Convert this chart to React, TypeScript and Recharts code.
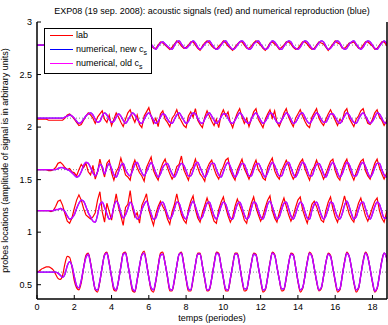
import React from "react";
import { LineChart, Line, XAxis, YAxis, ReferenceLine, Label } from "recharts";

// sampling step of every probe record (in periods)
const STEP = 0.125;
const X_MAX = 18.78;
const xTicks = [0, 2, 4, 6, 8, 10, 12, 14, 16, 18];
const yTicks = [0.5, 1, 1.5, 2, 2.5, 3];

// probe locations (vertical offsets of each record)
const bases = [2.78, 2.085, 1.595, 1.205, 0.62];

// deviations from the probe location, in 1/100 units, one row per period
const lab1 = [
  0, 0, 0, 0, 0, 0, 0, 0,
  0, 0, 0, 0, 1, 1, 1, 0,
  -1, -2, -1, 1, 2, 0, -2, -1,
  1, -2, -4, -1, 2, 3, 0, -3,
  -4, 0, 3, 2, 0, -3, -2, 1,
  3, 2, -1, -3, -5, -1, 2, 1,
  2, 0, -3, -3, 0, 3, 2, 0,
  -2, -4, -2, 1, 4, 2, -1, -3,
  -2, 0, 3, 3, 0, -3, -5, -1,
  2, 4, 2, -1, -3, -4, -1, 1,
  4, 2, -1, -3, -5, -2, 1, 3,
  3, 0, -3, -3, -1, 2, 4, 2,
  0, -3, -5, -2, 2, 3, 1, -1,
  -4, -2, 0, 3, 3, 1, -2, -4,
  -3, 0, 3, 3, 1, -2, -4, -3,
  0, 3, 2, 1, -2, -5, -2, 1,
  4, 2, 1, -3, -3, -1, 2, 2,
  3, 0, -3, -3, 0, 3, 3, 1,
  -1, -4, -3, 0, 3, 3, 0, -2,
];
const num1 = [
  0, 0, 0, 0, 0, 0, 0, 0,
  0, 0, 0, 0, 0, 0, 1, 1,
  1, 0, -1, -2, -1, 1, 2, 1,
  -1, -3, -2, 1, 3, 2, -1, -2,
  -3, -1, 2, 3, 1, -2, -3, 0,
  2, 3, 1, -2, -4, -2, 1, 2,
  3, 1, -2, -4, -1, 2, 3, 1,
  -1, -3, -4, 0, 3, 4, 1, -2,
  -3, -1, 2, 4, 2, -2, -4, -2,
  1, 3, 4, 1, -2, -4, -3, 0,
  3, 4, 1, -2, -4, -3, 0, 3,
  4, 2, -2, -4, -3, 1, 3, 4,
  1, -2, -4, -3, 1, 4, 3, 0,
  -3, -4, -1, 2, 4, 3, -1, -3,
  -4, -2, 2, 4, 3, 0, -3, -4,
  -1, 2, 4, 3, -1, -4, -3, 0,
  3, 4, 2, -2, -4, -3, 1, 3,
  4, 1, -2, -4, -2, 2, 4, 3,
  0, -3, -4, -1, 2, 4, 2, -1,
];

const lab2 = [
  -1, -1, -1, -1, -1, -2, -2, -2,
  -2, -2, -2, -2, 0, 3, 4, 2,
  -1, -4, -7, -6, -2, 2, 5, 3,
  0, -5, 1, 4, 7, -1, -4, 3,
  -7, -1, 5, 1, -4, -8, -1, 5,
  8, 1, -4, 3, -6, -9, 2, 6,
  10, 2, -5, 0, -8, 4, 7, -1,
  -4, -8, 0, 3, 8, 1, -3, -7,
  -9, 2, 6, 1, 9, -2, -6, -9,
  1, 7, 2, -3, -7, -1, -9, 3,
  8, 2, 6, -4, -9, -1, 5, 9,
  1, -5, 0, -8, -1, 6, 9, -1,
  -5, -9, -1, 4, 8, 0, 7, -4,
  -8, -2, 5, 9, 1, -4, -8, 0,
  4, 8, 2, -3, -7, -9, 1, 5,
  9, 0, -4, -7, -1, 4, 8, 3,
  -2, -7, -1, -3, 6, 9, 0, -4,
  -8, -1, 2, 7, 9, 1, -5, -6,
  -1, 5, 8, 1, -2, -7, -3, 2,
];
const num2 = [
  0, 0, 0, 0, 0, 0, 0, 0,
  0, 0, 0, 0, 1, 2, 3, 2,
  0, -3, -5, -4, -1, 2, 4, 5,
  3, -1, -4, -3, 2, 5, 3, -1,
  -4, -3, 1, 4, 2, -2, -5, -2,
  2, 5, 3, -1, -4, -5, -1, 3,
  5, 2, -2, -5, -3, 1, 4, 3,
  -1, -4, -5, -1, 3, 5, 2, -2,
  -5, -3, 2, 5, 4, 0, -4, -5,
  -1, 3, 5, 2, -2, -5, -3, 1,
  4, 4, 0, -4, -5, -2, 2, 5,
  3, -1, -4, -5, -1, 3, 5, 2,
  -2, -5, -3, 1, 5, 4, 0, -4,
  -5, -2, 2, 5, 3, -1, -5, -4,
  0, 4, 5, 1, -3, -5, -2, 2,
  5, 3, -1, -4, -4, 0, 4, 4,
  1, -3, -5, -2, 2, 5, 3, -1,
  -4, -5, -1, 3, 5, 2, -2, -5,
  -3, 1, 5, 4, 0, -4, -5, -1,
];

const lab3 = [
  0, 0, 0, 0, 0, -1, -1, 0,
  2, 6, 7, 5, 2, 0, 1, -2,
  -3, -6, 0, 5, 2, 6, -2, -5,
  4, -9, -2, 10, 1, -7, 6, 9,
  -3, -10, -2, 2, 11, 3, -5, -7,
  -10, 3, 9, 2, -3, -6, -11, 2,
  7, 12, -1, -6, -10, 0, 6, 10,
  2, -4, -9, -5, 3, 5, 13, 0,
  -5, -10, -1, 3, 10, 2, -4, -7,
  -11, 1, 6, 9, 1, -5, -9, -2,
  3, 9, 11, -1, -6, -10, 0, 5,
  10, 1, -4, -9, -3, 4, 9, 0,
  -3, -8, -10, 2, 7, 11, -1, -6,
  -9, -1, 4, 9, 4, -4, -9, -5,
  2, 7, 10, 1, -5, -10, -1, 3,
  9, 2, -3, -9, -4, 2, 8, 10,
  -1, -7, -10, 0, 6, 10, 1, -5,
  -10, -3, 3, 8, 10, -1, -6, -9,
  -1, 6, 10, 2, -4, -9, -4, 1,
];
const num3 = [
  0, 0, 0, 0, 0, 0, 0, 0,
  0, 1, 2, 2, 1, 0, -1, -3,
  -5, -7, -6, -2, 4, 7, 6, 2,
  -3, -6, -2, 5, 3, -4, 2, 6,
  1, -5, -7, -2, 4, 6, 0, -4,
  -6, -1, 5, 7, 2, -3, -6, -2,
  3, 7, 3, -3, -7, -4, 2, 5,
  6, 1, -4, -7, -3, 3, 6, 4,
  -1, -6, -6, -1, 5, 7, 2, -3,
  -7, -4, 2, 6, 6, 0, -5, -7,
  -2, 4, 7, 3, -3, -7, -4, 2,
  6, 5, -1, -6, -6, 0, 5, 6,
  2, -4, -7, -3, 3, 7, 4, -2,
  -6, -6, 0, 5, 7, 2, -4, -7,
  -3, 3, 7, 5, -1, -6, -6, 0,
  5, 6, 2, -4, -7, -2, 4, 7,
  3, -3, -7, -4, 2, 7, 5, -1,
  -6, -6, -1, 5, 7, 3, -3, -7,
  -4, 2, 6, 6, 0, -5, -7, -2,
];

const lab4 = [
  0, 0, 0, 0, 0, 0, -1, 0,
  4, 9, 10, 5, -3, -10, -12, -7,
  2, 10, 15, 10, 2, -4, -6, -8,
  -6, -2, 10, 18, -1, -11, 7, -1,
  -9, 4, 16, 3, -5, -14, 3, 6,
  19, 2, -6, -2, -12, 5, 10, 16,
  1, -7, -14, -3, 4, 9, 4, 0,
  -8, -13, -1, 6, 16, 5, -4, -9,
  -12, 1, 9, 14, 1, -7, -11, -2,
  5, 12, 5, -3, -10, -12, 1, 8,
  13, 3, -5, -11, -6, 4, 11, 5,
  -1, -9, -12, -1, 7, 13, 3, -4,
  -10, -5, 3, 10, 14, 0, -7, -11,
  -2, 6, 12, 4, -4, -10, -5, 3,
  10, 13, 1, -6, -12, -3, 6, 9,
  4, -3, -9, -11, 0, 8, 13, 2,
  -6, -11, -3, 5, 14, 5, -3, -8,
  -11, -1, 7, 12, 3, -5, -10, -4,
  3, 9, 12, 0, -7, -11, -2, 4,
];
const num4 = [
  0, 0, 0, 0, 0, 0, 0, 0,
  1, 1, 2, 1, -1, -5, -8, -7,
  -4, 2, 7, 10, 9, 4, -2, -6,
  -10, -11, -4, 6, 8, 3, -3, -8,
  -6, 4, 9, 6, -2, -7, -4, 2,
  8, 5, -3, -8, -6, 1, 6, 9,
  4, -3, -8, -7, 0, 6, 8, 3,
  -4, -8, -5, 2, 8, 7, 0, -6,
  -8, -2, 5, 9, 4, -3, -8, -6,
  1, 7, 8, 2, -5, -8, -3, 4,
  8, 6, -1, -7, -8, -1, 6, 8,
  3, -4, -8, -6, 2, 8, 7, 0,
  -6, -8, -2, 6, 9, 4, -3, -8,
  -6, 1, 7, 8, 2, -5, -8, -3,
  4, 8, 6, -1, -7, -8, 0, 6,
  8, 3, -4, -8, -5, 2, 8, 7,
  0, -6, -8, -3, 5, 9, 4, -3,
  -8, -6, 1, 7, 8, 2, -5, -8,
  -3, 4, 8, 6, -1, -7, -7, 0,
];

const lab5 = [
  0, 1, 3, 4, 5, 5, 4, 2,
  -2, -6, -7, -3, 8, 15, 14, 5,
  -8, -15, -17, -10, 4, 16, 18, 9,
  -5, -17, -19, -9, 5, 17, 19, 9,
  -5, -17, -18, -8, 6, 18, 19, 8,
  -6, -18, -19, -8, 5, 17, 20, 9,
  -5, -17, -19, -9, 6, 18, 19, 8,
  -5, -18, -18, -8, 6, 17, 19, 8,
  -7, -18, -18, -7, 7, 18, 18, 6,
  -7, -18, -17, -6, 8, 19, 18, 6,
  -6, -18, -18, -7, 7, 18, 18, 7,
  -8, -18, -17, -5, 8, 18, 17, 5,
  -8, -19, -17, -5, 9, 19, 17, 5,
  -7, -18, -17, -6, 8, 18, 17, 5,
  -9, -19, -16, -4, 10, 19, 16, 4,
  -9, -18, -16, -4, 9, 18, 16, 4,
  -9, -19, -17, -4, 10, 19, 15, 4,
  -10, -19, -16, -3, 11, 19, 15, 3,
  -10, -19, -16, -3, 11, 18, 14, 3,
];
const num5 = [
  0, 0, 0, 0, 0, 0, 0, 0,
  0, -1, -3, -5, -2, 6, 10, 6,
  -4, -13, -15, -8, 4, 14, 17, 8,
  -5, -16, -17, -8, 5, 16, 18, 8,
  -4, -15, -17, -8, 5, 17, 18, 7,
  -5, -16, -18, -7, 6, 16, 18, 8,
  -5, -15, -17, -8, 5, 16, 17, 8,
  -4, -16, -17, -7, 6, 17, 18, 7,
  -6, -16, -17, -6, 7, 17, 17, 6,
  -6, -17, -16, -6, 7, 18, 17, 6,
  -6, -16, -17, -6, 6, 17, 17, 6,
  -7, -16, -16, -5, 8, 17, 16, 5,
  -7, -17, -16, -5, 8, 18, 16, 5,
  -7, -16, -16, -5, 8, 17, 16, 5,
  -8, -17, -15, -4, 9, 18, 15, 4,
  -8, -17, -15, -4, 9, 17, 15, 4,
  -8, -17, -16, -4, 9, 18, 15, 4,
  -9, -17, -15, -3, 10, 18, 14, 3,
  -9, -18, -15, -3, 10, 18, 14, 3,
];

const labs = [lab1, lab2, lab3, lab4, lab5];
const nums = [num1, num2, num3, num4, num5];

const toRows = (base: number, devs: number[]) =>
  devs.map((d, i) => ({ t: i * STEP, v: base + d / 100 }));

const font = "'Liberation Sans', Arial, Helvetica, sans-serif";
const tickStyle = { fontSize: 9, fill: "#000", fontFamily: font };

function LegendBox() {
  const row = (color: string, text: React.ReactNode, top: number) => (
    <div style={{ position: "absolute", left: 0, top, height: 12, width: "100%" }}>
      <div style={{ position: "absolute", left: 5, top: 6, width: 23, height: 1, background: color }} />
      <div style={{ position: "absolute", left: 31, top: 0, fontSize: 9, lineHeight: "12px", whiteSpace: "nowrap" }}>{text}</div>
    </div>
  );
  return (
    <div
      style={{
        position: "absolute",
        left: 44,
        top: 28,
        width: 106,
        height: 44,
        border: "1px solid #000",
        background: "#fff",
        fontFamily: font,
        color: "#000",
      }}
    >
      {row("#ff0000", "lab", 0)}
      {row("#0000ff", <span>numerical, new c<sub style={{ fontSize: 7 }}>s</sub></span>, 14)}
      {row("#ff00ff", <span>numerical, old c<sub style={{ fontSize: 7 }}>s</sub></span>, 28)}
    </div>
  );
}

export default function App() {
  return (
    <div style={{ position: "absolute", left: 0, top: 0, width: 388, height: 325, background: "#fff" }}>
      <div
        style={{
          position: "absolute",
          left: 37,
          width: 350,
          top: 6,
          textAlign: "center",
          fontSize: 9,
          fontFamily: font,
          whiteSpace: "nowrap",
        }}
      >
        EXP08 (19 sep. 2008): acoustic signals (red) and numerical reproduction (blue)
      </div>
      <LineChart width={388} height={325} margin={{ top: 22, right: 0, bottom: 0, left: 0 }}>
        <XAxis
          xAxisId="b"
          type="number"
          dataKey="t"
          domain={[0, X_MAX]}
          ticks={xTicks}
          allowDataOverflow
          height={26}
          tickSize={-4}
          tickMargin={9}
          tick={tickStyle}
          stroke="#000"
          axisLine={{ stroke: "#000", strokeWidth: 1.5 }}
          interval={0}
        />
        <XAxis
          xAxisId="t"
          orientation="top"
          type="number"
          domain={[0, X_MAX]}
          ticks={xTicks}
          allowDataOverflow
          height={0}
          tickSize={-4}
          tick={false}
          stroke="#000"
          axisLine={{ stroke: "#000", strokeWidth: 1.5 }}
        />
        <YAxis
          yAxisId="l"
          type="number"
          domain={[0.364, 3]}
          ticks={yTicks}
          allowDataOverflow
          width={37}
          tickSize={-4}
          tickMargin={9}
          tick={tickStyle}
          stroke="#000"
          axisLine={{ stroke: "#000", strokeWidth: 1.5 }}
          interval={0}
        >
          <Label
            value="probes locations (amplitude of signal is in arbitrary units)"
            angle={-90}
            position="insideLeft"
            offset={5}
            style={{ fontSize: 9, fontFamily: font, fill: "#000", textAnchor: "middle" }}
          />
        </YAxis>
        <YAxis
          yAxisId="r"
          orientation="right"
          type="number"
          domain={[0.364, 3]}
          ticks={yTicks}
          allowDataOverflow
          width={1}
          tickSize={-4}
          tick={false}
          stroke="#000"
          axisLine={{ stroke: "#000", strokeWidth: 1.5 }}
        />
        {bases.map((b) => (
          <ReferenceLine key={"ref" + b} xAxisId="b" yAxisId="l" y={b} stroke="#888" strokeDasharray="1 2" strokeWidth={1} />
        ))}
        {bases.map((b, k) => (
          <Line
            key={"lab" + k}
            xAxisId="b"
            yAxisId="l"
            data={toRows(b, labs[k])}
            dataKey="v"
            type={k === 4 ? "monotone" : "linear"}
            stroke="#ff0000"
            strokeWidth={1.2}
            dot={false}
            isAnimationActive={false}
          />
        ))}
        {bases.map((b, k) => (
          <Line
            key={"new" + k}
            xAxisId="b"
            yAxisId="l"
            data={toRows(b, nums[k])}
            dataKey="v"
            type="monotone"
            stroke="#0000ff"
            strokeWidth={1.3}
            dot={false}
            isAnimationActive={false}
          />
        ))}
        {bases.map((b, k) => (
          <Line
            key={"old" + k}
            xAxisId="b"
            yAxisId="l"
            data={toRows(b, nums[k])}
            dataKey="v"
            type="monotone"
            stroke="#ff00ff"
            strokeOpacity={0.82}
            strokeWidth={1.4}
            dot={false}
            isAnimationActive={false}
          />
        ))}
      </LineChart>
      <div
        style={{
          position: "absolute",
          left: 37,
          width: 350,
          top: 313,
          textAlign: "center",
          fontSize: 9,
          fontFamily: font,
          whiteSpace: "nowrap",
        }}
      >
        temps (periodes)
      </div>
      <LegendBox />
    </div>
  );
}
